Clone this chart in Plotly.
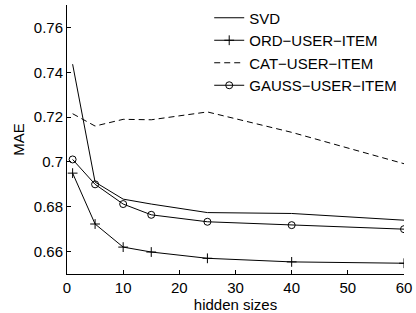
import plotly.graph_objects as go

hidden_sizes = [1, 5, 10, 15, 25, 40, 60]
svd = [0.7436, 0.6910, 0.6834, 0.6812, 0.6774, 0.6770, 0.6740]
ord_ui = [0.6950, 0.6723, 0.6620, 0.6598, 0.6570, 0.6554, 0.6548]
cat_ui = [0.7215, 0.7160, 0.7190, 0.7188, 0.7223, 0.7132, 0.6992]
gauss_ui = [0.7011, 0.6900, 0.6812, 0.6764, 0.6733, 0.6718, 0.6700]

x_ticks = [0, 10, 20, 30, 40, 50, 60]
y_ticks = [0.66, 0.68, 0.70, 0.72, 0.74, 0.76]
y_tick_labels = ["0.66", "0.68", "0.7", "0.72", "0.74", "0.76"]

fig = go.Figure()
fig.add_trace(go.Scatter(x=hidden_sizes, y=svd, mode="lines", name="SVD",
                         line=dict(color="black", width=1)))
fig.add_trace(go.Scatter(x=hidden_sizes, y=ord_ui, mode="lines+markers", name="ORD\u2212USER\u2212ITEM",
                         line=dict(color="black", width=1),
                         marker=dict(symbol="cross-thin", size=7, line=dict(color="black", width=1))))
fig.add_trace(go.Scatter(x=hidden_sizes, y=cat_ui, mode="lines", name="CAT\u2212USER\u2212ITEM",
                         line=dict(color="black", width=1, dash="6px,4px")))
fig.add_trace(go.Scatter(x=hidden_sizes, y=gauss_ui, mode="lines+markers", name="GAUSS\u2212USER\u2212ITEM",
                         line=dict(color="black", width=1),
                         marker=dict(symbol="circle-open", size=7, color="black", line=dict(color="black", width=1))))

fig.update_layout(
    width=416, height=313,
    margin=dict(l=67, r=12, t=2, b=39),
    paper_bgcolor="white", plot_bgcolor="white",
    font=dict(family="Liberation Sans, Arial, sans-serif", size=15, color="black"),
    showlegend=True,
    legend=dict(x=0.422, y=1.013, xanchor="left", yanchor="top",
                bgcolor="rgba(0,0,0,0)", borderwidth=0,
                font=dict(size=15), tracegroupgap=0, itemwidth=30),
    xaxis=dict(range=[0, 60], tickvals=x_ticks, ticks="inside", ticklen=4,
               tickcolor="black", showline=True, linecolor="black", linewidth=1,
               showgrid=False, zeroline=False, mirror=False,
               title=dict(text="hidden sizes", standoff=0, font=dict(size=15)),
               tickfont=dict(size=15)),
    yaxis=dict(range=[0.65, 0.77], tickvals=y_ticks, ticktext=y_tick_labels,
               ticks="inside", ticklen=4, tickcolor="black",
               showline=True, linecolor="black", linewidth=1,
               showgrid=False, zeroline=False, mirror=False,
               title=dict(text="MAE", standoff=5, font=dict(size=15)),
               tickfont=dict(size=15)),
)

fig.write_html("out.html", config={"displayModeBar": False},
               post_script="document.body.style.margin='0';document.body.style.overflow='hidden';")
